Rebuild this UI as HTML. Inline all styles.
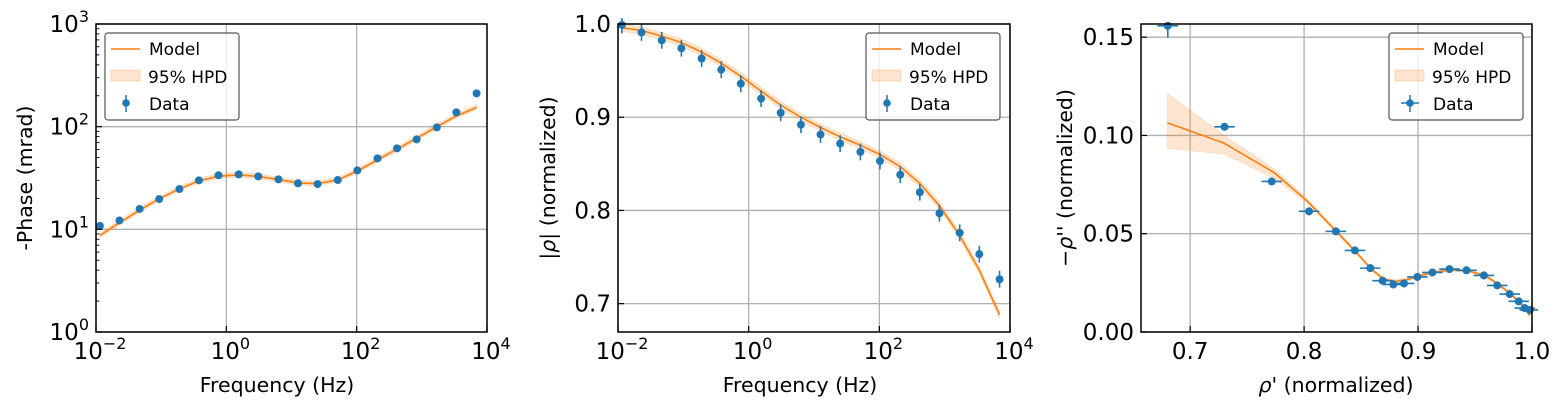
<!DOCTYPE html>
<html><head><meta charset="utf-8"><style>
body{margin:0;background:#fff;width:1566px;height:413px;overflow:hidden;font-family:"Liberation Sans","DejaVu Sans",sans-serif}
svg text{font-family:"DejaVu Sans","Liberation Sans",sans-serif;fill:#000}
</style></head><body>
<svg id="chart" width="1566" height="413" xmlns="http://www.w3.org/2000/svg"></svg>
<script>
// Panel 1 & 2: log10 frequency of data points
const freqLog = [-1.94,-1.64,-1.33,-1.03,-0.72,-0.42,-0.12,0.19,0.49,0.80,1.10,1.40,1.71,2.01,2.32,2.62,2.92,3.23,3.53,3.84];
const phaseData = [10.8,12.2,15.8,19.7,24.7,30.0,33.6,34.3,32.8,30.7,28.1,27.6,30.2,37.5,49.1,61.5,75.2,98.4,137.8,211];
const phaseModel = [8.7,11.6,15.4,19.9,24.8,29.6,32.9,33.9,32.8,30.5,28.3,27.8,30.4,37.0,47.5,60.5,77.0,100.0,127,154];
const magData = [0.999,0.991,0.9825,0.974,0.963,0.951,0.936,0.920,0.9047,0.892,0.8814,0.8717,0.8628,0.853,0.8384,0.8195,0.797,0.776,0.7531,0.7262];
const magModel = [0.996,0.993,0.987,0.980,0.970,0.958,0.944,0.928,0.913,0.900,0.889,0.879,0.870,0.860,0.847,0.829,0.805,0.773,0.736,0.688];
// Panel 3
const reData = [0.6804,0.7302,0.7716,0.8044,0.8279,0.8446,0.8581,0.8689,0.8783,0.8877,0.8994,0.9126,0.9276,0.9425,0.9578,0.9695,0.9804,0.9883,0.9935,0.998];
const imData = [0.1558,0.1044,0.0766,0.0614,0.0512,0.0415,0.0325,0.0261,0.0242,0.0247,0.0280,0.0303,0.0320,0.0314,0.0288,0.0237,0.0193,0.0156,0.0122,0.0112];
const reModel = [0.680,0.730,0.774,0.803,0.827,0.845,0.859,0.870,0.880,0.890,0.901,0.914,0.929,0.944,0.959,0.971,0.982,0.990,0.995,0.998];
const imModel = [0.1065,0.0960,0.0810,0.0665,0.0520,0.0410,0.0320,0.0268,0.0258,0.0266,0.0285,0.0304,0.0316,0.0311,0.0287,0.0240,0.0190,0.0145,0.0110,0.0085];
const imUpper = [0.1215,0.1000,0.0830,0.0675,0.0528,0.0418,0.0328,0.0276,0.0266,0.0274,0.0293,0.0312,0.0324,0.0319,0.0295,0.0248,0.0198,0.0153,0.0118,0.0093];
const imLower = [0.0935,0.0905,0.0780,0.0655,0.0512,0.0402,0.0312,0.0260,0.0250,0.0258,0.0277,0.0296,0.0308,0.0303,0.0279,0.0232,0.0182,0.0137,0.0102,0.0077];
const logTicks = [-2,0,2,4];
const phaseTicks = [0,1,2,3];
const magTicks = ["0.7","0.8","0.9","1.0"];
const reTicks = ["0.7","0.8","0.9","1.0"];
const imTicks = ["0.00","0.05","0.10","0.15"];

const NS="http://www.w3.org/2000/svg";
const svg=document.getElementById('chart');
function el(tag,attrs,parent,text){const e=document.createElementNS(NS,tag);for(const k in attrs)e.setAttribute(k,attrs[k]);if(text!==undefined)e.textContent=text;(parent||svg).appendChild(e);return e;}
const BLUE="#1f77b4",ORANGE="#ff7f0e",TOP=24,BOT=332,TFS=23,LFS=20.5,GFS=17;

function panel(name,L,R,xmin,xmax,ymin,ymax){
  const g=el('g',{});
  
  
  return {g,L,R,x:v=>L+(v-xmin)/(xmax-xmin)*(R-L),y:v=>BOT-(v-ymin)/(ymax-ymin)*(BOT-TOP)};
}
function grid(p,xs,ys){
  xs.forEach(v=>{const l=el('line',{x1:p.x(v),x2:p.x(v),y1:TOP,y2:BOT,stroke:'#b0b0b0','stroke-width':1.3},p.g);});
  ys.forEach(v=>{const l=el('line',{x1:p.L,x2:p.R,y1:p.y(v),y2:p.y(v),stroke:'#b0b0b0','stroke-width':1.3},p.g);});
}
function frame(p){
  const r=el('rect',{x:p.L,y:TOP,width:p.R-p.L,height:BOT-TOP,fill:'none',stroke:'#000','stroke-width':1.5},p.g);
  
}
function xTicks(p,vals,labels,sup){
  vals.forEach((v,i)=>{
    el('line',{x1:p.x(v),x2:p.x(v),y1:BOT,y2:BOT-6,stroke:'#000','stroke-width':1.2},p.g);
    const t=el('text',{x:p.x(v)+(sup?4:0),y:359,'font-size':TFS,'text-anchor':'middle'},p.g);
    
    if(sup){el('tspan',{},t,'10');el('tspan',{dy:-10,'font-size':16},t,sup[i]);}else t.textContent=labels[i];
  });
}
function yTicks(p,vals,labels,sup){
  vals.forEach((v,i)=>{
    el('line',{x1:p.L,x2:p.L+6,y1:p.y(v),y2:p.y(v),stroke:'#000','stroke-width':1.2},p.g);
    const t=el('text',{x:p.L-7,y:p.y(v)+8,'font-size':TFS,'text-anchor':'end'},p.g);
    
    if(sup){el('tspan',{},t,'10');el('tspan',{dy:-10,'font-size':16},t,sup[i]);}else t.textContent=labels[i];
  });
}
function label(p,txt,xt,yt,rot,name){
  const t=el('text',{x:xt,y:yt,'font-size':LFS,'text-anchor':'middle',transform:rot?`rotate(-90 ${xt} ${yt})`:''},p.g);
  t.innerHTML=txt;
  
}
function legend(p,x,withX){
  const g=el('g',{},p.g);
  
  el('rect',{x:x,y:33,width:134,height:87,rx:3,fill:'#fff','fill-opacity':0.8,stroke:'#555','stroke-width':1.2},g);
  el('line',{x1:x+6,x2:x+35,y1:49,y2:49,stroke:ORANGE,'stroke-width':1.5},g);
  el('text',{x:x+44,y:55,'font-size':GFS},g,'Model');
  el('rect',{x:x+6,y:70,width:29,height:11,fill:ORANGE,'fill-opacity':0.2,stroke:ORANGE,'stroke-opacity':0.25},g);
  el('text',{x:x+43,y:83,'font-size':GFS},g,'95% HPD');
  el('line',{x1:x+21,x2:x+21,y1:95,y2:112,stroke:BLUE,'stroke-width':1.5},g);
  if(withX)el('line',{x1:x+12,x2:x+30,y1:103,y2:103,stroke:BLUE,'stroke-width':1.5},g);
  el('circle',{cx:x+21,cy:103,r:3.8,fill:BLUE},g);
  el('text',{x:x+44,y:110,'font-size':GFS},g,'Data');
}
function series(p,xs,ym,yu,yl,xd,yd,yerr,xerr){
  const clipId='c'+Math.round(p.L);
  const cp=el('clipPath',{id:clipId},p.g);el('rect',{x:p.L,y:TOP-6,width:p.R-p.L+6,height:BOT-TOP+6},cp);
  const inner=el('g',{'clip-path':`url(#${clipId})`},p.g);
  let band='';xs.forEach((v,i)=>band+=(i?'L':'M')+p.x(v).toFixed(1)+','+p.y(yu[i]).toFixed(1));
  for(let i=xs.length-1;i>=0;i--)band+='L'+p.x(xs[i]).toFixed(1)+','+p.y(yl[i]).toFixed(1);
  const b=el('path',{d:band+'Z',fill:ORANGE,'fill-opacity':0.2,stroke:ORANGE,'stroke-opacity':0.15},inner);
  
  const ln=el('polyline',{points:xs.map((v,i)=>p.x(v).toFixed(1)+','+p.y(ym[i]).toFixed(1)).join(' '),fill:'none',stroke:ORANGE,'stroke-width':1.6},inner);
  
  xd.forEach((v,i)=>{
    const cx=p.x(v),cy=p.y(yd[i]);
    const e=yerr(i);
    const eb=el('line',{x1:cx,x2:cx,y1:p.y(e[0]),y2:p.y(e[1]),stroke:BLUE,'stroke-width':1.6},inner);
    
    if(xerr){const h=el('line',{x1:p.x(v-xerr),x2:p.x(v+xerr),y1:cy,y2:cy,stroke:BLUE,'stroke-width':1.6},inner);
      }
    const c=el('circle',{cx:cx,cy:cy,r:4,fill:BLUE},inner);
    
  });
}
// Panel 1
{
  const p=panel('phase-panel',96,487,-2,4,0,3);
  grid(p,logTicks,phaseTicks);
  const lg=v=>Math.log10(v);
  series(p,freqLog,phaseModel.map(lg),phaseModel.map(v=>lg(v*1.06)),phaseModel.map(v=>lg(v*0.95)),freqLog,phaseData.map(lg),i=>[lg(phaseData[i]*0.98),lg(phaseData[i]*1.02)]);
  for(let d=0;d<3;d++)for(let k=2;k<10;k++){const yy=p.y(d+Math.log10(k));el('line',{x1:p.L,x2:p.L+3.5,y1:yy,y2:yy,stroke:'#000','stroke-width':0.9},p.g);}
  frame(p);
  xTicks(p,logTicks,null,logTicks.map(v=>v<0?'\u2212'+(-v):String(v)));
  yTicks(p,phaseTicks,null,phaseTicks.map(String));
  label(p,'Frequency (Hz)',277,392,false,'x-axis-title');
  label(p,'-Phase (mrad)',32,178,true,'y-axis-title');
  legend(p,105,false);
}
// Panel 2
{
  const p=panel('magnitude-panel',618,1010,-2,4,0.6696,1.0);
  grid(p,logTicks,magTicks.map(Number));
  series(p,freqLog,magModel,magModel.map(v=>v+0.004),magModel.map(v=>v-0.004),freqLog,magData,i=>[magData[i]-0.009,magData[i]+0.009]);
  frame(p);
  xTicks(p,logTicks,null,logTicks.map(v=>v<0?'\u2212'+(-v):String(v)));
  yTicks(p,magTicks.map(Number),magTicks);
  label(p,'Frequency (Hz)',800,392,false,'x-axis-title');
  label(p,'|<tspan font-style="italic">ρ</tspan>| (normalized)',555,178,true,'y-axis-title');
  legend(p,866,false);
}
// Panel 3
{
  const p=panel('nyquist-panel',1141,1532,0.6569,1.0,0,0.1567);
  grid(p,reTicks.map(Number),imTicks.map(Number));
  series(p,reModel,imModel,imUpper,imLower,reData,imData,i=>[imData[i]-(i==0?0.006:0.002),imData[i]+0.002],0.009);
  frame(p);
  xTicks(p,reTicks.map(Number),reTicks);
  yTicks(p,imTicks.map(Number),imTicks);
  label(p,'<tspan font-style="italic">ρ</tspan>\' (normalized)',1336,392,false,'x-axis-title');
  label(p,'\u2212<tspan font-style="italic">ρ</tspan>\'\' (normalized)',1072,178,true,'y-axis-title');
  legend(p,1389,true);
}
</script>
</body></html>
